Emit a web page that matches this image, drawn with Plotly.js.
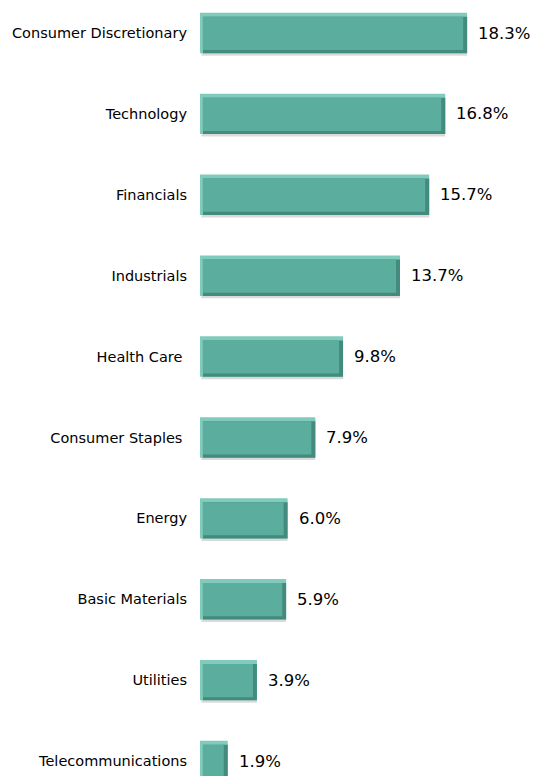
<!DOCTYPE html>
<html>
<head>
<meta charset="utf-8">
<script src="https://cdn.plot.ly/plotly-3.0.1.min.js"></script>
<style>html,body{margin:0;padding:0;background:#fff;}#chart{width:535px;height:776px;}</style>
</head>
<body>
<div id="chart"></div>
<script>
const categories = ["Consumer Discretionary","Technology","Financials","Industrials","Health Care\u00a0","Consumer Staples\u00a0","Energy","Basic Materials","Utilities","Telecommunications"];
const values = [18.3,16.8,15.7,13.7,9.8,7.9,6.0,5.9,3.9,1.9];
const valueLabels = ["18.3%","16.8%","15.7%","13.7%","9.8%","7.9%","6.0%","5.9%","3.9%","1.9%"];

const insetL = 0.2, insetR = 0.27;
const shadow = {type:'bar',orientation:'h',y:categories,x:values.map(v=>v-0.1),base:0.1,width:0.5,offset:-0.22,
  marker:{color:'rgba(150,150,150,0.35)'},hoverinfo:'skip'};
const light = {type:'bar',orientation:'h',y:categories,x:values,width:0.5,offset:-0.25,
  marker:{color:'#80cbbb'},hoverinfo:'skip'};
const dark = {type:'bar',orientation:'h',y:categories,x:values.map(v=>v-insetL),base:insetL,width:0.45,offset:-0.2,
  marker:{color:'#438b7c'},hoverinfo:'skip'};
const face = {type:'bar',orientation:'h',y:categories,x:values.map(v=>v-insetL-insetR),base:insetL,width:0.41,offset:-0.2,
  marker:{color:'#5bad9d'},hoverinfo:'skip'};

const annotations = categories.map((c,i)=>({x:values[i],y:c,text:valueLabels[i],xanchor:'left',yanchor:'middle',
  xshift:9,showarrow:false,font:{family:'DejaVu Sans',size:16.5,color:'#000'}}));

const layout = {
  width:535,height:776,
  margin:{l:200,r:0,t:0,b:0},
  paper_bgcolor:'#fff',plot_bgcolor:'#fff',
  barmode:'overlay',showlegend:false,
  xaxis:{range:[0,22.95],visible:false,fixedrange:true},
  yaxis:{type:'category',range:[9.185,-0.408],showgrid:false,zeroline:false,showline:false,ticks:'',
    ticklabelstandoff:12,tickfont:{family:'DejaVu Sans',size:14.5,color:'#000'}},
  annotations:annotations
};
Plotly.newPlot('chart',[shadow,light,dark,face],layout,{displayModeBar:false,staticPlot:true});
</script>
</body>
</html>
